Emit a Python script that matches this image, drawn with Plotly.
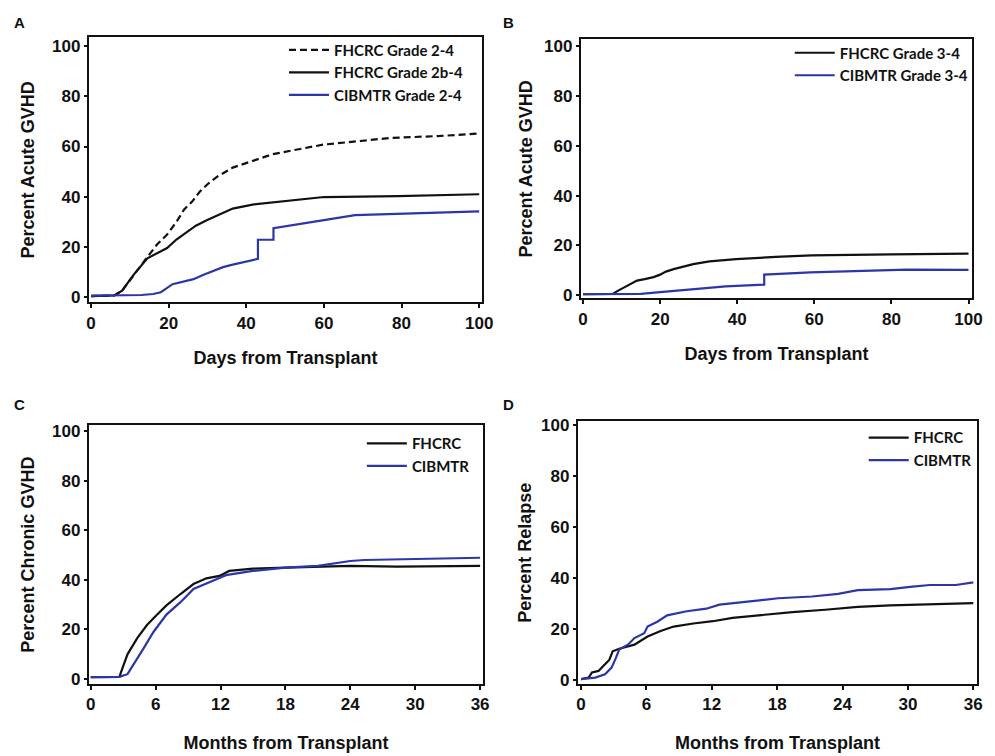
import plotly.graph_objects as go

# ---------------- data ----------------
# Panel A: acute GVHD grade 2-4 (days)
a_fh24_x = [0, 6, 8, 11, 14.5, 17, 19.6, 22, 24, 26, 28, 30, 32.5, 36.5, 40, 46.7, 52, 60, 70, 77, 90, 100]
a_fh24_y = [0.5, 0.7, 2.6, 9, 16, 21, 25, 30, 35, 38, 42, 45, 48, 51.6, 53.5, 56.9, 58.5, 60.8, 62.3, 63.4, 64.2, 65.2]
a_fh2b_x = [0, 6, 8, 11, 14.5, 17, 19.6, 22, 24.7, 27, 29.8, 33, 36.5, 41.6, 50, 60, 79, 100]
a_fh2b_y = [0.5, 0.7, 2.6, 9, 15.5, 17.5, 19.6, 23, 26, 28.5, 30.7, 33, 35.3, 36.9, 38.2, 39.9, 40.3, 41.0]
a_ci_x = [0, 13, 16, 18, 21, 23.5, 26.4, 29, 31.5, 34, 36.5, 40, 43, 43, 47, 47, 53.5, 60, 68, 79, 90, 100]
a_ci_y = [0.7, 0.9, 1.3, 2.0, 5.2, 6.2, 7.2, 9.0, 10.5, 12.0, 13.0, 14.2, 15.3, 22.9, 22.9, 27.5, 29.0, 30.7, 32.7, 33.3, 33.8, 34.2]

# Panel B: acute GVHD grade 3-4 (days)
b_fh_x = [0, 7.7, 9, 10.7, 12.5, 14, 16, 18.3, 20, 21.5, 23.5, 26, 28.6, 32.8, 39.7, 50, 59.3, 80, 100]
b_fh_y = [0.5, 0.6, 1.8, 3.3, 4.8, 5.9, 6.5, 7.3, 8.3, 9.5, 10.5, 11.5, 12.5, 13.6, 14.5, 15.4, 16.0, 16.4, 16.7]
b_ci_x = [0, 15, 20, 28.6, 37, 47, 47, 59, 71, 84, 100]
b_ci_y = [0.5, 0.6, 1.3, 2.6, 3.6, 4.3, 8.3, 9.2, 9.6, 10.3, 10.2]

# Panel C: chronic GVHD (months)
c_fh_x = [0, 2.65, 2.95, 3.4, 4.3, 5.2, 6.1, 7, 8.3, 9.5, 10.7, 11.9, 12.8, 15, 18, 22.2, 24, 28.3, 36]
c_fh_y = [0.8, 0.9, 4.6, 10, 16.5, 21.8, 25.8, 29.7, 34.3, 38.3, 40.6, 41.6, 43.6, 44.5, 44.9, 45.6, 45.6, 45.3, 45.6]
c_ci_x = [0, 2.65, 3.4, 4, 4.9, 5.8, 7, 8.3, 9.5, 11.3, 12.5, 15, 18, 21, 24, 25.3, 28.3, 36]
c_ci_y = [0.8, 0.9, 2, 6, 12.5, 19, 26, 31, 36.3, 39.6, 41.9, 43.6, 44.9, 45.6, 47.6, 48.0, 48.2, 48.9]

# Panel D: relapse (months)
d_fh_x = [0, 0.7, 1, 1.6, 2.2, 2.6, 2.9, 3.5, 4.9, 6.1, 7.3, 8.5, 10.3, 12.1, 13.9, 16.3, 19.4, 22.4, 25.4, 28.4, 31.4, 36]
d_fh_y = [0.4, 1.0, 3.0, 3.6, 6.2, 8.0, 11.3, 12.3, 13.9, 17.1, 19.3, 21.0, 22.2, 23.1, 24.4, 25.4, 26.7, 27.6, 28.7, 29.3, 29.6, 30.2]
d_ci_x = [0, 1.3, 2.2, 2.8, 3.2, 3.5, 4.3, 4.9, 5.8, 6.1, 7, 7.9, 9.7, 11.5, 12.7, 15.1, 18.1, 21.2, 23.6, 25.4, 28.4, 30.2, 32, 34.4, 36]
d_ci_y = [0.4, 1.0, 2.3, 4.9, 8.7, 12.0, 13.9, 16.5, 18.4, 21.0, 22.9, 25.4, 27.0, 28.0, 29.6, 30.6, 32.1, 32.8, 33.8, 35.3, 35.7, 36.6, 37.3, 37.3, 38.3]

day_ticks = [0, 20, 40, 60, 80, 100]
month_ticks = [0, 6, 12, 18, 24, 30, 36]
pct_ticks = [0, 20, 40, 60, 80, 100]

BLUE = "#2b36a8"
BLACK = "#111111"
W, H = 995, 756

fig = go.Figure()

def add(x, y, name, color, dash, xa, ya, legend):
    fig.add_trace(go.Scatter(x=x, y=y, mode="lines", name=name,
                             line=dict(color=color, width=2.2, dash=dash),
                             xaxis=xa, yaxis=ya, legend=legend))

add(a_fh24_x, a_fh24_y, "FHCRC Grade 2-4", BLACK, "7px,4px", "x", "y", "legend")
add(a_fh2b_x, a_fh2b_y, "FHCRC Grade 2b-4", BLACK, "solid", "x", "y", "legend")
add(a_ci_x, a_ci_y, "CIBMTR Grade 2-4", BLUE, "solid", "x", "y", "legend")
add(b_fh_x, b_fh_y, "FHCRC Grade 3-4", BLACK, "solid", "x2", "y2", "legend2")
add(b_ci_x, b_ci_y, "CIBMTR Grade 3-4", BLUE, "solid", "x2", "y2", "legend2")
add(c_fh_x, c_fh_y, "FHCRC", BLACK, "solid", "x3", "y3", "legend3")
add(c_ci_x, c_ci_y, "CIBMTR", BLUE, "solid", "x3", "y3", "legend3")
add(d_fh_x, d_fh_y, "FHCRC", BLACK, "solid", "x4", "y4", "legend4")
add(d_ci_x, d_ci_y, "CIBMTR", BLUE, "solid", "x4", "y4", "legend4")

def px_x(p):
    return p / W

def px_y(p):
    return 1 - p / H

tickfont = dict(family="Liberation Sans, Arial, sans-serif", size=17, color="#111", weight="bold")
titlefont = dict(family="Liberation Sans, Arial, sans-serif", size=18, color="#111", weight="bold")

def xaxis(dom, rng, ticks, title, anchor, standoff):
    return dict(domain=dom, range=rng, tickvals=ticks, ticks="outside", ticklen=4, tickwidth=2,
                tickcolor="#111", showline=True, linecolor="#111", linewidth=2, mirror=True,
                showgrid=False, zeroline=False, tickfont=tickfont, anchor=anchor,
                title=dict(text=title, font=titlefont, standoff=standoff))

def yaxis(dom, rng, title, anchor, standoff):
    return dict(domain=dom, range=rng, tickvals=pct_ticks, ticks="outside", ticklen=3, tickwidth=2,
                tickcolor="#111", showline=True, linecolor="#111", linewidth=2, mirror=True,
                showgrid=False, zeroline=False, tickfont=tickfont, anchor=anchor,
                title=dict(text=title, font=titlefont, standoff=standoff))

legfont = dict(family="Lato, Open Sans, sans-serif", size=15, color="#111", weight="bold")

def legend(xp, yp):
    return dict(x=px_x(xp), y=px_y(yp), xanchor="left", yanchor="top", bgcolor="rgba(0,0,0,0)",
                font=legfont, tracegroupgap=0, itemwidth=40, traceorder="normal")

fig.update_layout(
    width=W, height=H, margin=dict(l=0, r=0, t=0, b=0),
    paper_bgcolor="white", plot_bgcolor="white", showlegend=True,
    xaxis=xaxis([px_x(87), px_x(486)], [-0.58, 100.76], day_ticks, "Days from Transplant", "y", 20),
    yaxis=yaxis([px_y(302), px_y(33)], [-1.96, 103.4], "Percent Acute GVHD", "x", 13),
    xaxis2=xaxis([px_x(586), px_x(983)], [-0.59, 100.95], day_ticks, "Days from Transplant", "y2", 20),
    yaxis2=yaxis([px_y(298), px_y(35)], [-1.18, 102.6], "Percent Acute GVHD", "x2", 7),
    xaxis3=xaxis([px_x(87), px_x(487)], [-0.18, 36.28], month_ticks, "Months from Transplant", "y3", 23),
    yaxis3=yaxis([px_y(690), px_y(427)], [-1.98, 102.3], "Percent Chronic GVHD", "x3", 13),
    xaxis4=xaxis([px_x(583), px_x(988)], [-0.3, 36.35], month_ticks, "Months from Transplant", "y4", 23),
    yaxis4=yaxis([px_y(690), px_y(423)], [-1.54, 101.5], "Percent Relapse", "x4", 5),
    legend=legend(285, 29),
    legend2=legend(798, 32),
    legend3=legend(364, 429),
    legend4=legend(873, 423),
)

for txt, xp, yp in [("A", 9, 18), ("B", 505, 18), ("C", 9, 406), ("D", 505, 406)]:
    fig.add_annotation(text="<b>" + txt + "</b>", x=px_x(xp), y=px_y(yp), xref="paper", yref="paper",
                       xanchor="left", yanchor="middle", showarrow=False,
                       font=dict(family="Liberation Sans, Arial, sans-serif", size=15, color="#111"))

fig.write_html("out.html")
